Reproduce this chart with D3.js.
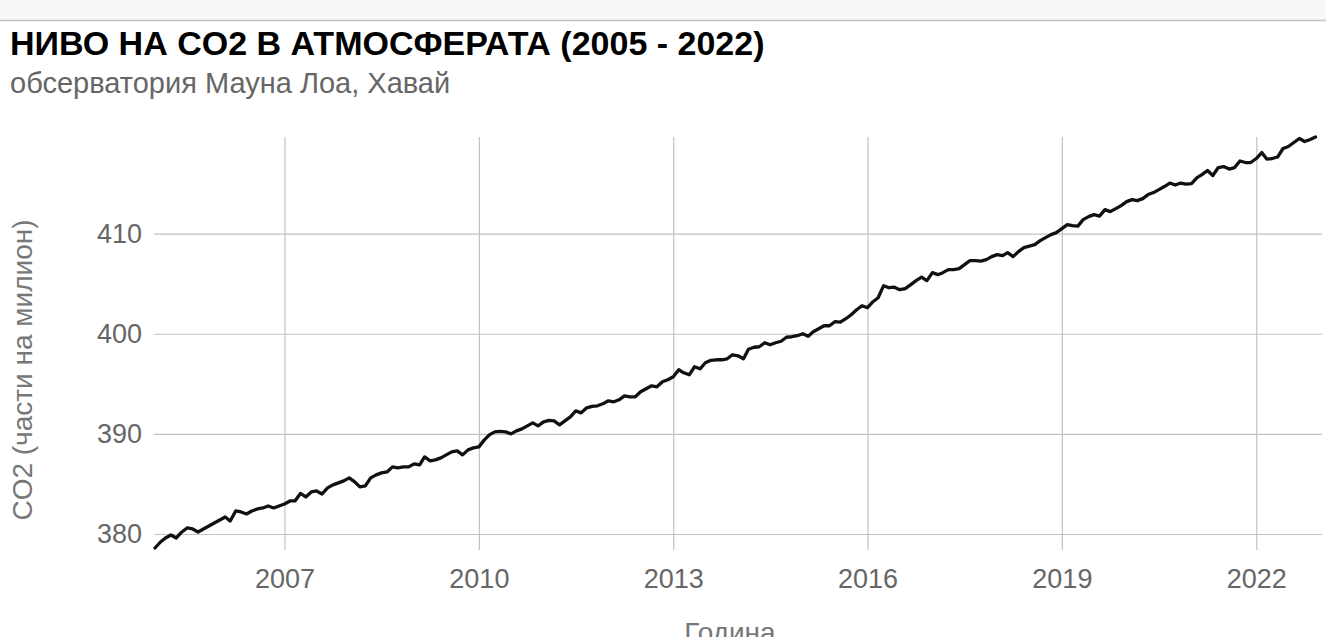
<!DOCTYPE html>
<html>
<head>
<meta charset="utf-8">
<script src="https://cdn.jsdelivr.net/npm/d3@7"></script>
<style>
  html, body { margin: 0; padding: 0; background: #fff; }
  svg { display: block; font-family: "Liberation Sans", Arial, sans-serif; }
</style>
</head>
<body>
<div id="chart"></div>
<script>
// monthly CO2 (ppm), Jan 2005 .. Dec 2022
const startYear = 2005;
const co2 = [
  378.6, 379.2, 379.6, 379.9, 379.6, 380.2, 380.6, 380.5, 380.2, 380.5, 380.8, 381.1, // 2005
  381.4, 381.7, 381.3, 382.3, 382.2, 382.0, 382.3, 382.5, 382.6, 382.8, 382.6, 382.8, // 2006
  383.0, 383.3, 383.3, 384.05, 383.7, 384.2, 384.3, 384.0, 384.6, 384.9, 385.1, 385.3, // 2007
  385.6, 385.2, 384.7, 384.8, 385.6, 385.9, 386.1, 386.2, 386.7, 386.6, 386.7, 386.7, // 2008
  387.0, 386.9, 387.7, 387.3, 387.4, 387.6, 387.9, 388.2, 388.3, 387.9, 388.4, 388.6, // 2009
  388.7, 389.4, 389.9, 390.2, 390.25, 390.2, 390.0, 390.3, 390.5, 390.8, 391.1, 390.8, // 2010
  391.2, 391.35, 391.3, 390.9, 391.3, 391.7, 392.3, 392.1, 392.6, 392.75, 392.8, 393.0, // 2011
  393.3, 393.2, 393.4, 393.8, 393.7, 393.7, 394.2, 394.5, 394.8, 394.7, 395.2, 395.4, // 2012
  395.7, 396.4, 396.1, 395.9, 396.7, 396.5, 397.1, 397.35, 397.4, 397.4, 397.5, 397.9, // 2013
  397.8, 397.5, 398.45, 398.65, 398.7, 399.1, 398.9, 399.1, 399.25, 399.65, 399.7, 399.8, // 2014
  400.0, 399.75, 400.2, 400.5, 400.8, 400.8, 401.2, 401.15, 401.5, 401.9, 402.4, 402.8, // 2015
  402.6, 403.2, 403.6, 404.8, 404.6, 404.65, 404.4, 404.5, 404.9, 405.3, 405.65, 405.3, // 2016
  406.1, 405.9, 406.1, 406.4, 406.4, 406.5, 406.9, 407.3, 407.3, 407.25, 407.4, 407.7, // 2017
  407.9, 407.8, 408.1, 407.7, 408.2, 408.6, 408.75, 408.9, 409.3, 409.6, 409.9, 410.1, // 2018
  410.5, 410.9, 410.8, 410.75, 411.4, 411.7, 411.9, 411.75, 412.4, 412.2, 412.5, 412.8, // 2019
  413.2, 413.4, 413.3, 413.5, 413.9, 414.1, 414.4, 414.7, 415.05, 414.85, 415.05, 414.95, // 2020
  415.0, 415.6, 415.9, 416.3, 415.8, 416.6, 416.7, 416.45, 416.6, 417.25, 417.1, 417.1, // 2021
  417.5, 418.1, 417.45, 417.5, 417.65, 418.5, 418.7, 419.1, 419.5, 419.2, 419.4, 419.65  // 2022
];
const xTickYears = [2007, 2010, 2013, 2016, 2019, 2022];
const yTicks = [380, 390, 400, 410];

const title = "НИВО НА CO2 В АТМОСФЕРАТА (2005 - 2022)";
const subtitle = "обсерватория Мауна Лоа, Хавай";
const xTitle = "Година";
const yTitle = "CO2 (части на милион)";

const W = 1326, H = 637;
const plot = { left: 155, right: 1321, top: 137, bottom: 548 };

const data = co2.map((v, i) => ({ date: new Date(startYear, i, 1), value: v }));

const svg = d3.select("#chart").append("svg")
  .attr("width", W)
  .attr("height", H);

// grey strip at the very top
svg.append("rect").attr("x", 0).attr("y", 0).attr("width", W).attr("height", 20).attr("fill", "#f7f7f7");
svg.append("line").attr("x1", 0).attr("x2", W).attr("y1", 20.5).attr("y2", 20.5)
  .attr("stroke", "#c2c2c2").attr("stroke-width", 1.5);

svg.append("text")
  .attr("x", 10).attr("y", 55)
  .attr("font-size", 34).attr("font-weight", "bold").attr("fill", "#000")
  .text(title);

svg.append("text")
  .attr("x", 10).attr("y", 93)
  .attr("font-size", 29).attr("fill", "#666")
  .text(subtitle);

const x = d3.scaleTime()
  .domain([new Date(startYear, 0, 1), new Date(2023, 0, 1)])
  .range([plot.left, plot.right]);

const y = d3.scaleLinear()
  .domain(d3.extent(co2))
  .range([plot.bottom, plot.top]);

// x axis + vertical grid
const gx = svg.append("g")
  .attr("transform", `translate(0,${plot.bottom + 2})`)
  .call(d3.axisBottom(x)
    .tickValues(xTickYears.map(yr => new Date(yr, 0, 1)))
    .tickFormat(d3.timeFormat("%Y"))
    .tickSize(-(plot.bottom + 2 - plot.top))
    .tickPadding(19));
gx.select(".domain").remove();
gx.selectAll(".tick line").attr("stroke", "#c2c2c2").attr("stroke-width", 1.2);
gx.selectAll(".tick text").attr("fill", "#666").attr("font-size", 27)
  .attr("font-family", "Liberation Sans, Arial, sans-serif");

// y axis + horizontal grid
const gy = svg.append("g")
  .attr("transform", `translate(${plot.left - 1},0)`)
  .call(d3.axisLeft(y)
    .tickValues(yTicks)
    .tickSize(-(plot.right - plot.left + 2))
    .tickPadding(12));
gy.select(".domain").remove();
gy.selectAll(".tick line").attr("stroke", "#c2c2c2").attr("stroke-width", 1.2);
gy.selectAll(".tick text").attr("fill", "#666").attr("font-size", 27)
  .attr("font-family", "Liberation Sans, Arial, sans-serif");

// the line
const line = d3.line()
  .x(d => x(d.date))
  .y(d => y(d.value));

svg.append("path")
  .datum(data)
  .attr("fill", "none")
  .attr("stroke", "#111")
  .attr("stroke-width", 3.3)
  .attr("stroke-linejoin", "round")
  .attr("stroke-linecap", "round")
  .attr("d", line);

// axis titles
svg.append("text")
  .attr("x", 730).attr("y", 642)
  .attr("text-anchor", "middle")
  .attr("font-size", 28).attr("fill", "#777")
  .text(xTitle);

svg.append("text")
  .attr("transform", "translate(32,370) rotate(-90)")
  .attr("text-anchor", "middle")
  .attr("font-size", 28).attr("fill", "#777")
  .text(yTitle);
</script>
</body>
</html>
